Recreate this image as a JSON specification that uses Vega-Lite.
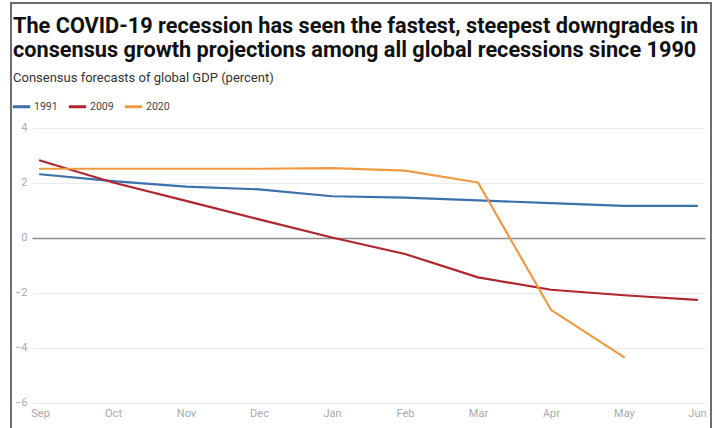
{
  "$schema": "https://vega.github.io/schema/vega-lite/v6.json",
  "autosize": {"type": "none"},
  "padding": {"left": 11, "top": 3, "right": 4, "bottom": 0},
  "width": 700,
  "height": 425,
  "title": {
    "text": [
      "The COVID-19 recession has seen the fastest, steepest downgrades in",
      "consensus growth projections among all global recessions since 1990"
    ],
    "subtitle": "Consensus forecasts of global GDP (percent)",
    "anchor": "start",
    "frame": "group",
    "orient": "top",
    "offset": -82,
    "dx": 2,
    "font": "Roboto",
    "fontSize": 21.7,
    "fontWeight": "bold",
    "color": "#111111",
    "lineHeight": 24,
    "subtitleFont": "Roboto",
    "subtitleFontSize": 13,
    "subtitleColor": "#333333",
    "subtitlePadding": 10
  },
  "data": {
    "values": [
      {"month": "Sep", "recession": "1991", "gdp": 2.3},
      {"month": "Oct", "recession": "1991", "gdp": 2.05},
      {"month": "Nov", "recession": "1991", "gdp": 1.85},
      {"month": "Dec", "recession": "1991", "gdp": 1.75},
      {"month": "Jan", "recession": "1991", "gdp": 1.5},
      {"month": "Feb", "recession": "1991", "gdp": 1.45},
      {"month": "Mar", "recession": "1991", "gdp": 1.35},
      {"month": "Apr", "recession": "1991", "gdp": 1.25},
      {"month": "May", "recession": "1991", "gdp": 1.15},
      {"month": "Jun", "recession": "1991", "gdp": 1.15},
      {"month": "Sep", "recession": "2009", "gdp": 2.8},
      {"month": "Oct", "recession": "2009", "gdp": 2.0},
      {"month": "Nov", "recession": "2009", "gdp": 1.33},
      {"month": "Dec", "recession": "2009", "gdp": 0.66},
      {"month": "Jan", "recession": "2009", "gdp": 0.0},
      {"month": "Feb", "recession": "2009", "gdp": -0.6},
      {"month": "Mar", "recession": "2009", "gdp": -1.45},
      {"month": "Apr", "recession": "2009", "gdp": -1.9},
      {"month": "May", "recession": "2009", "gdp": -2.1},
      {"month": "Jun", "recession": "2009", "gdp": -2.27},
      {"month": "Sep", "recession": "2020", "gdp": 2.5},
      {"month": "Oct", "recession": "2020", "gdp": 2.5},
      {"month": "Nov", "recession": "2020", "gdp": 2.5},
      {"month": "Dec", "recession": "2020", "gdp": 2.5},
      {"month": "Jan", "recession": "2020", "gdp": 2.52},
      {"month": "Feb", "recession": "2020", "gdp": 2.43},
      {"month": "Mar", "recession": "2020", "gdp": 2.0},
      {"month": "Apr", "recession": "2020", "gdp": -2.63},
      {"month": "May", "recession": "2020", "gdp": -4.35}
    ]
  },
  "mark": {"type": "line", "strokeWidth": 2.2, "strokeJoin": "round", "strokeCap": "round"},
  "encoding": {
    "x": {
      "field": "month",
      "type": "ordinal",
      "scale": {
        "type": "point",
        "domain": ["Sep", "Oct", "Nov", "Dec", "Jan", "Feb", "Mar", "Apr", "May", "Jun"],
        "range": [21, 694],
        "padding": 0.11
      },
      "axis": {
        "orient": "bottom",
        "offset": -23,
        "title": null,
        "domain": false,
        "ticks": false,
        "tickSize": 0,
        "grid": false,
        "labelAngle": 0,
        "labelPadding": 2,
        "labelColor": "#aaaaaa",
        "labelFontSize": 11,
        "labelFont": "Roboto"
      }
    },
    "y": {
      "field": "gdp",
      "type": "quantitative",
      "scale": {"domain": [-6, 4], "range": [399.5, 124.5], "nice": false, "zero": false},
      "axis": {
        "orient": "left",
        "offset": -18,
        "values": [-6, -4, -2, 0, 2, 4],
        "title": null,
        "domain": false,
        "ticks": false,
        "tickSize": 0,
        "labelPadding": 2,
        "labelColor": "#aaaaaa",
        "labelFontSize": 11,
        "labelFont": "Roboto",
        "grid": true,
        "gridColor": {"condition": {"test": "datum.value === 0", "value": "#8c8c8c"}, "value": "#ececec"},
        "gridWidth": {"condition": {"test": "datum.value === 0", "value": 1.6}, "value": 1}
      }
    },
    "color": {
      "field": "recession",
      "type": "nominal",
      "scale": {"domain": ["1991", "2009", "2020"], "range": ["#3b71ab", "#b0262e", "#ee9a42"]},
      "legend": {
        "title": null,
        "orient": "none",
        "legendX": 0,
        "legendY": 93,
        "direction": "horizontal",
        "symbolType": "stroke",
        "symbolSize": 300,
        "symbolStrokeWidth": 3,
        "labelFont": "Roboto",
        "labelFontSize": 10.5,
        "labelColor": "#444444",
        "labelOffset": 2,
        "columnPadding": 4
      }
    }
  },
  "config": {
    "font": "Roboto",
    "view": {"stroke": "#6e6e6e", "strokeWidth": 2, "strokeDash": [1125, 700, 425]}
  }
}
